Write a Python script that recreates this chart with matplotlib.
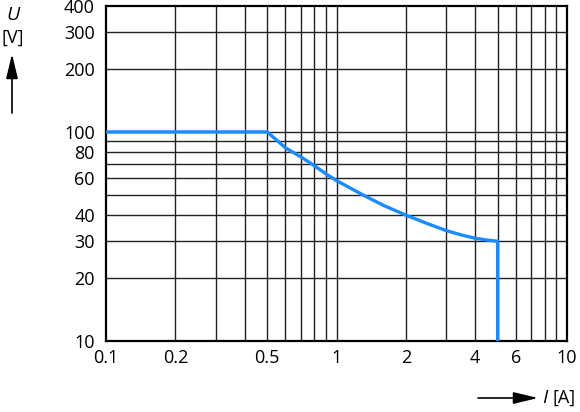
import matplotlib
matplotlib.use('Agg')
import matplotlib.pyplot as plt
from matplotlib.patches import FancyArrowPatch
from matplotlib.ticker import FixedLocator, NullLocator, NullFormatter

plt.rcParams['font.family'] = ['Open Sans', 'DejaVu Sans']

# curve (current in A, voltage in V)
current = [0.1, 0.5, 0.6, 0.7, 0.8, 0.9, 1.0, 1.3, 1.6, 2.0, 2.5, 3.0, 3.5, 4.0, 4.5, 5.0, 5.0]
voltage = [100, 100, 84, 76, 69, 63, 58.5, 50, 44.5, 40, 36.3, 33.7, 32.1, 31, 30.4, 30, 10]

x_ticks = [0.1, 0.2, 0.5, 1, 2, 4, 6, 10]
x_labels = ['0.1', '0.2', '0.5', '1', '2', '4', '6', '10']
x_grid = [0.2, 0.3, 0.4, 0.5, 0.6, 0.7, 0.8, 0.9, 1, 2, 3, 4, 5, 6, 7, 8, 9]
y_ticks = [10, 20, 30, 40, 60, 80, 100, 200, 300, 400]
y_grid = [20, 30, 40, 50, 60, 70, 80, 90, 100, 200, 300]

fig = plt.figure(figsize=(5.8, 4.12), dpi=100)
ax = fig.add_axes([0.1828, 0.1723, 0.7948, 0.8131])

ax.set_xscale('log')
ax.set_yscale('log')
ax.set_xlim(0.1, 10)
ax.set_ylim(10, 400)

for g in x_grid:
    ax.axvline(g, color='#222222', lw=1.0, zorder=1)
for g in y_grid:
    ax.axhline(g, color='#222222', lw=1.0, zorder=1)

ax.plot(current, voltage, color='#1a8cff', lw=2.4, zorder=3, solid_joinstyle='round')

ax.xaxis.set_major_locator(FixedLocator(x_ticks))
ax.xaxis.set_minor_locator(NullLocator())
ax.yaxis.set_major_locator(FixedLocator(y_ticks))
ax.yaxis.set_minor_locator(NullLocator())
ax.set_xticklabels(x_labels)
ax.set_yticklabels([str(v) for v in y_ticks])
ax.xaxis.set_minor_formatter(NullFormatter())
ax.yaxis.set_minor_formatter(NullFormatter())
ax.tick_params(length=0, labelsize=13, colors='black')
ax.tick_params(axis='y', pad=8)
ax.tick_params(axis='x', pad=6)

for s in ax.spines.values():
    s.set_linewidth(1.6)
    s.set_color('black')

# axis captions with arrows
fig.text(13 / 580, 1 - 15 / 412, 'U', style='italic', fontsize=14, ha='center', va='center')
fig.text(13 / 580, 1 - 38 / 412, '[V]', fontsize=13, ha='center', va='center')
fig.add_artist(FancyArrowPatch(
    (12 / 580, 1 - 113 / 412), (12 / 580, 1 - 54 / 412), transform=fig.transFigure,
    arrowstyle='-|>,head_length=15,head_width=3.6', color='black', lw=1.2,
    shrinkA=0, shrinkB=0))
fig.add_artist(FancyArrowPatch(
    (478 / 580, 1 - 398 / 412), (538 / 580, 1 - 398 / 412), transform=fig.transFigure,
    arrowstyle='-|>,head_length=15,head_width=3.6', color='black', lw=1.2,
    shrinkA=0, shrinkB=0))
fig.text(542 / 580, 1 - 398 / 412, 'I', style='italic', fontsize=14, ha='left', va='center')
fig.text(552 / 580, 1 - 398 / 412, '[A]', fontsize=13, ha='left', va='center')

fig.savefig('out.png', dpi=100)
